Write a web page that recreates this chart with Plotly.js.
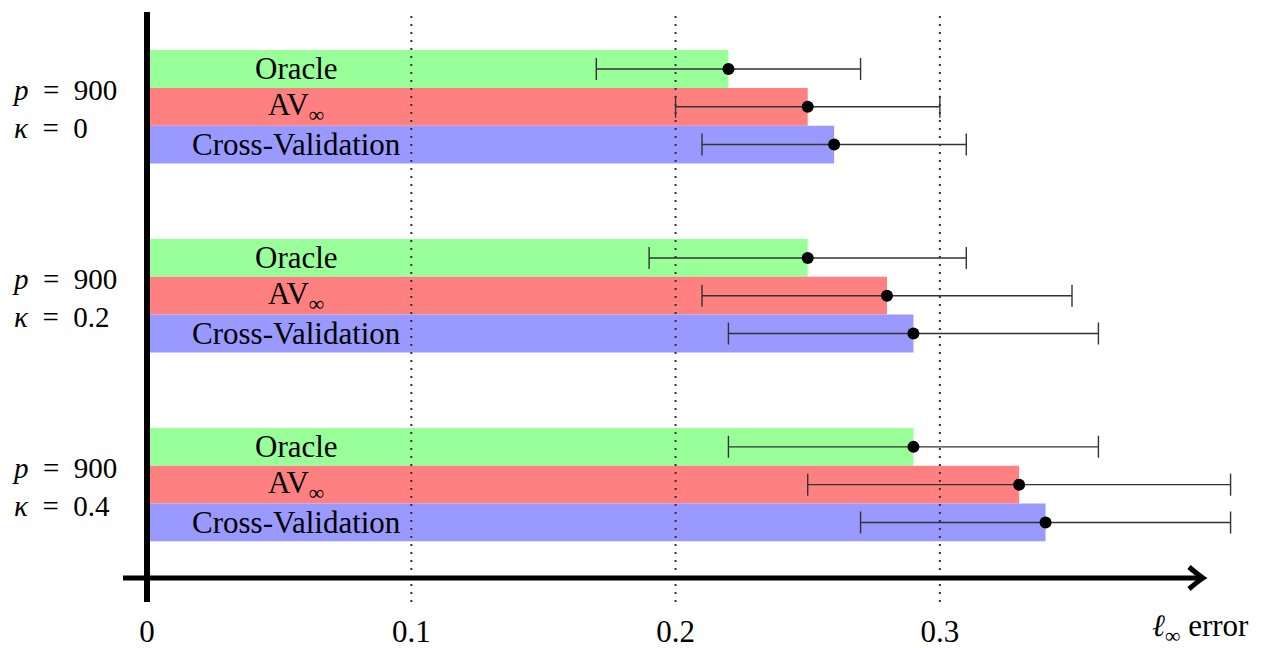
<!DOCTYPE html>
<html>
<head>
<meta charset="utf-8">
<script src="https://cdn.plot.ly/plotly-3.0.1.min.js"></script>
<style>html,body{margin:0;padding:0;background:#fff;}#chart{width:1262px;height:648px;}</style>
</head>
<body>
<div id="chart"></div>
<script>
// ---- data ----
const groupLabels = ["<i>p</i>\u2002=\u2002900<br><i>κ</i>\u2002=\u20020", "<i>p</i>\u2002=\u2002900<br><i>κ</i>\u2002=\u20020.2", "<i>p</i>\u2002=\u2002900<br><i>κ</i>\u2002=\u20020.4"];
const seriesNames = ["Oracle", "AV<sub>∞</sub>", "Cross-Validation"];
const oracleMean = [0.22, 0.25, 0.29];
const oracleLow  = [0.17, 0.19, 0.22];
const oracleHigh = [0.27, 0.31, 0.36];
const avMean = [0.25, 0.28, 0.33];
const avLow  = [0.20, 0.21, 0.25];
const avHigh = [0.30, 0.35, 0.41];
const cvMean = [0.26, 0.29, 0.34];
const cvLow  = [0.21, 0.22, 0.27];
const cvHigh = [0.31, 0.36, 0.41];
const xTickVals = [0, 0.1, 0.2, 0.3];
const xTickText = ["0", "0.1", "0.2", "0.3"];
const xAxisLabel = "<i>ℓ</i><sub>∞</sub> error";

// ---- style ----
const colors = ["#99ff99", "#ff8080", "#9999ff"];
const FONT = "'Liberation Serif', 'DejaVu Serif', serif";
const FS = 31;
const W = 1262, H = 648;
const M = {l: 147, r: 5, t: 12, b: 70};
const pw = W - M.l - M.r, ph = H - M.t - M.b;
const px2x = p => (p - M.l) / pw;
const py2y = p => 1 - (p - M.t) / ph;

const means = [oracleMean, avMean, cvMean];
const lows = [oracleLow, avLow, cvLow];
const highs = [oracleHigh, avHigh, cvHigh];
const groupStride = seriesNames.length + 2;
const pos = (g, s) => g * groupStride + s;

const traces = [];
seriesNames.forEach((name, s) => {
  const ys = groupLabels.map((_, g) => pos(g, s));
  traces.push({
    type: "bar", orientation: "h", x: means[s], y: ys, width: 1,
    marker: {color: colors[s], line: {width: 0}}, hoverinfo: "skip", showlegend: false
  });
});
seriesNames.forEach((name, s) => {
  const ys = groupLabels.map((_, g) => pos(g, s));
  traces.push({
    type: "scatter", mode: "markers", x: means[s], y: ys,
    marker: {color: "#000", size: 12},
    error_x: {type: "data", symmetric: false,
      array: highs[s].map((h, i) => h - means[s][i]),
      arrayminus: lows[s].map((l, i) => means[s][i] - l),
      color: "#333", thickness: 1.4, width: 11},
    hoverinfo: "skip", showlegend: false, cliponaxis: false
  });
});

const annotations = [];
const labelX = 0.0565;
groupLabels.forEach((gl, g) => {
  seriesNames.forEach((name, s) => {
    annotations.push({x: labelX, y: pos(g, s), xref: "x", yref: "y", text: name, showarrow: false,
      font: {family: FONT, size: FS, color: "#000"}, xanchor: "center", yanchor: "middle"});
  });
  annotations.push({x: px2x(10), y: pos(g, 1) + 0.05, xref: "paper", yref: "y", text: gl, showarrow: false,
    align: "left", xanchor: "left", yanchor: "middle",
    font: {family: FONT, size: 29, color: "#000"}});
});
annotations.push({x: px2x(1150), y: py2y(628), xref: "paper", yref: "paper", text: xAxisLabel, showarrow: false,
  xanchor: "left", yanchor: "middle", font: {family: FONT, size: FS, color: "#000"}});

const shapes = [];
xTickVals.slice(1).forEach(v => {
  shapes.push({type: "line", xref: "x", yref: "paper", x0: v, x1: v, y0: py2y(602), y1: py2y(12),
    line: {color: "#333", width: 2, dash: "2px,6px"}, layer: "above"});
});
// y axis line
shapes.push({type: "line", xref: "paper", yref: "paper", x0: 0, x1: 0, y0: py2y(602), y1: py2y(12),
  line: {color: "#000", width: 6}, layer: "above"});
// x axis line
shapes.push({type: "line", xref: "paper", yref: "paper", x0: px2x(123), x1: px2x(1200), y0: py2y(578), y1: py2y(578),
  line: {color: "#000", width: 5}, layer: "above"});
// arrow head
shapes.push({type: "path", xref: "paper", yref: "paper",
  path: `M ${px2x(1189)} ${py2y(567)} Q ${px2x(1197)} ${py2y(574)} ${px2x(1203)} ${py2y(578)} Q ${px2x(1197)} ${py2y(582)} ${px2x(1189)} ${py2y(589)}`,
  line: {color: "#000", width: 5}, layer: "above"});

const layout = {
  width: W, height: H, margin: M, paper_bgcolor: "#fff", plot_bgcolor: "#fff",
  showlegend: false, barmode: "overlay",
  xaxis: {range: [0, 0.42], tickvals: xTickVals, ticktext: xTickText, ticks: "", showgrid: false,
    zeroline: false, showline: false, ticklabelstandoff: 32,
    tickfont: {family: FONT, size: FS, color: "#000"}},
  yaxis: {range: [13.47, -1.508], showticklabels: false, showgrid: false, zeroline: false, showline: false, ticks: ""},
  annotations: annotations, shapes: shapes
};
Plotly.newPlot("chart", traces, layout, {displayModeBar: false, staticPlot: true});
</script>
</body>
</html>
